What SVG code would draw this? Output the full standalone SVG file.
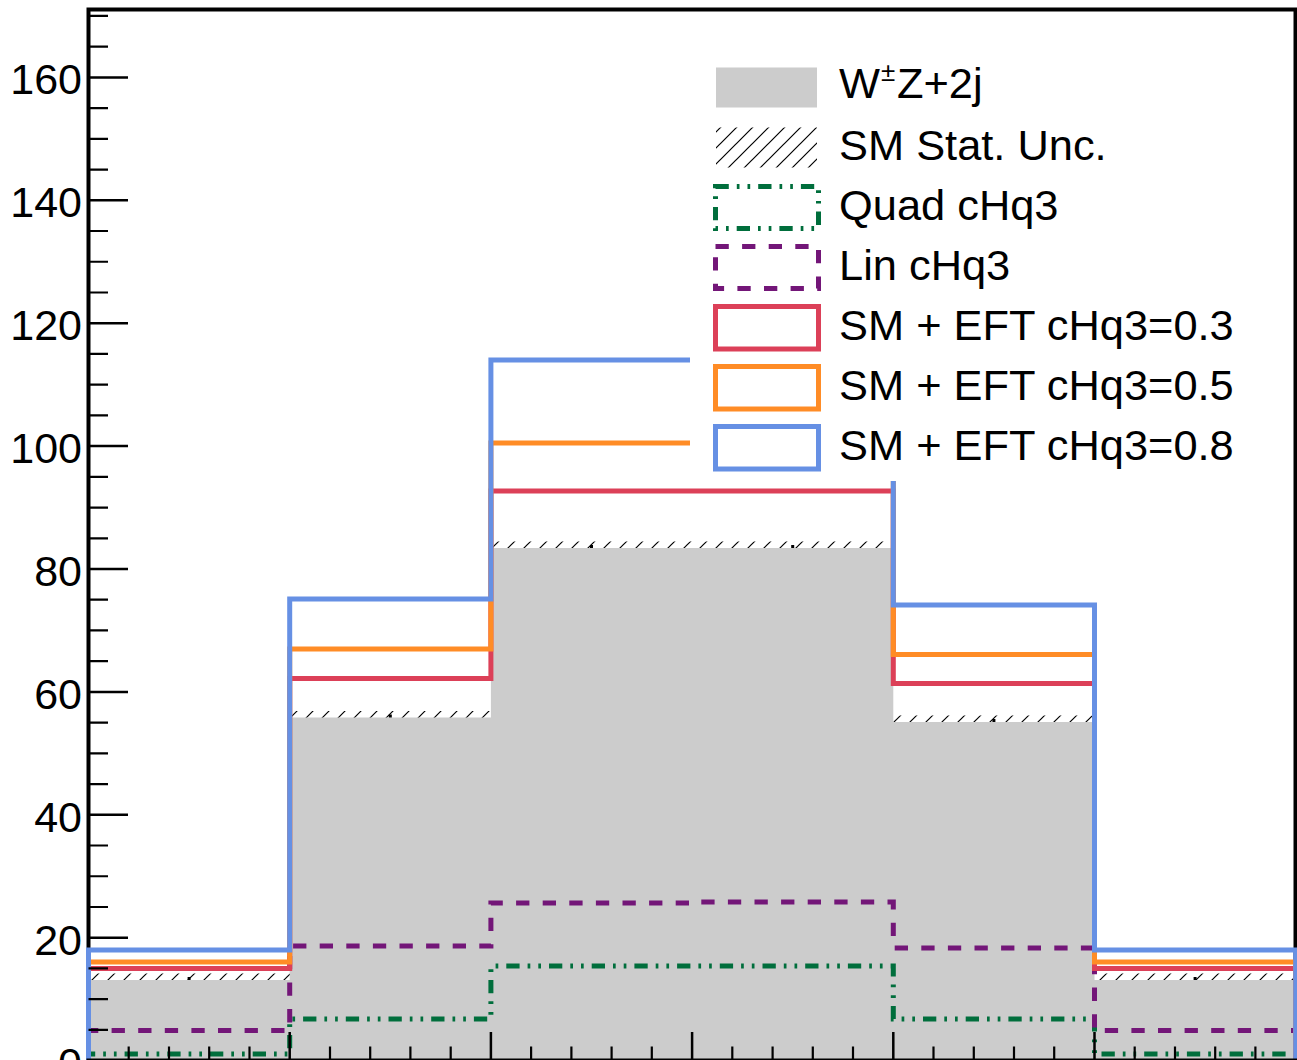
<svg xmlns="http://www.w3.org/2000/svg" width="1297" height="1060" viewBox="0 0 1297 1060">
<defs>
<pattern id="hatch" patternUnits="userSpaceOnUse" width="16" height="16">
<path d="M-4 4L4 -4M0 16L16 0M12 20L20 12" stroke="#000" stroke-width="1.2" fill="none"/>
</pattern>
</defs>
<style>
text{font-family:"Liberation Sans",Arial,sans-serif;font-size:43px;fill:#000}
#legend text{font-size:43.4px}
.ax text{text-anchor:end}
.h{fill:none;stroke-width:5;stroke-linejoin:miter}
.red{stroke:#dc4058}
.orange{stroke:#ff8c26}
.blue{stroke:#6690e4}
.purple{stroke:#731678;stroke-dasharray:13.3 13.3}
.green{stroke:#006e3c;stroke-dasharray:13.3 8 2.7 8 2.7 8}
.tick{stroke:#000;fill:none}
</style>
<rect width="1297" height="1060" fill="#fff"/>
<g id="frame">
<rect x="88.5" y="9.5" width="1207" height="1051" fill="none" stroke="#000" stroke-width="4"/>
</g>
<g id="connectors">
<path id="sm" d="M88.5 1060.6V980H289.7V717.5H490.9V548H893.3V722H1094.5V980H1295.7V1060.6Z" fill="#cccccc"/>
<g id="stat" fill="url(#hatch)">
<rect x="88.5" y="973.5" width="201.2" height="6.5"/>
<rect x="289.7" y="711" width="201.2" height="6.5"/>
<rect x="490.9" y="541.5" width="402.4" height="6.5"/>
<rect x="893.3" y="715.5" width="201.2" height="6.5"/>
<rect x="1094.5" y="973.5" width="201.2" height="6.5"/>
<g fill="#000">
<rect x="187.6" y="977" width="3" height="3"/>
<rect x="388.8" y="714.5" width="3" height="3"/>
<rect x="590" y="545" width="3" height="3"/>
<rect x="791.2" y="545" width="3" height="3"/>
<rect x="992.4" y="719" width="3" height="3"/>
<rect x="1193.6" y="977" width="3" height="3"/>
</g>
</g>
<path class="h green" d="M88.5 1060.6V1054H289.7V1019H490.9V966H893.3V1019H1094.5V1054H1295.7V1060.6"/>
<path class="h purple" d="M88.5 1060.6V1030.5H289.7V946H490.9V903H692.1V902H893.3V948H1094.5V1030.5H1295.7V1060.6"/>
<path class="h red" d="M88.5 1060.6V968.5H289.7V678.5H490.9V491H893.3V683.5H1094.5V968.5H1295.7V1060.6"/>
<path class="h orange" d="M88.5 1060.6V962H289.7V649H490.9V443H893.3V654.5H1094.5V962H1295.7V1060.6"/>
<path class="h blue" d="M88.5 1060.6V950H289.7V599H490.9V360H893.3V605H1094.5V950H1295.7V1060.6"/>
</g>
<g id="legend">
<rect x="690" y="14" width="600" height="467" fill="#fff"/>
<g id="leg-sm"><rect x="716" y="67.5" width="101" height="40" fill="#cccccc"/>
<text x="839" y="98">W<tspan x="881" y="81" style="font-size:26px">±</tspan><tspan x="897" y="98">Z+2j</tspan></text></g>
<g id="leg-stat"><rect x="716" y="127.5" width="101" height="40" fill="url(#hatch)"/>
<text x="839" y="160">SM Stat. Unc.</text></g>
<g id="leg-quad"><rect class="h green" x="715.5" y="186.5" width="103" height="42"/>
<text x="839" y="220">Quad cHq3</text></g>
<g id="leg-lin"><rect class="h purple" x="715.5" y="246.5" width="103" height="42"/>
<text x="839" y="280">Lin cHq3</text></g>
<g id="leg-03"><rect class="h red" x="715.5" y="306.5" width="103" height="42.5"/>
<text x="839" y="340">SM + EFT cHq3=0.3</text></g>
<g id="leg-05"><rect class="h orange" x="715.5" y="366.5" width="103" height="42.5"/>
<text x="839" y="400">SM + EFT cHq3=0.5</text></g>
<g id="leg-08"><rect class="h blue" x="715.5" y="426.5" width="103" height="42.5"/>
<text x="839" y="460">SM + EFT cHq3=0.8</text></g>
</g>
<g id="axes" class="ax">
<path class="tick" stroke-width="2.5" d="M88.5 1060.6H128M88.5 937.7H128M88.5 814.8H128M88.5 691.9H128M88.5 569H128M88.5 446.1H128M88.5 323.2H128M88.5 200.3H128M88.5 77.4H128"/>
<path class="tick" stroke-width="2.2" d="M88.5 1029.9H108M88.5 999.15H108M88.5 968.4H108M88.5 907H108M88.5 876.25H108M88.5 845.5H108M88.5 784.1H108M88.5 753.35H108M88.5 722.6H108M88.5 661.2H108M88.5 630.45H108M88.5 599.7H108M88.5 538.3H108M88.5 507.55H108M88.5 476.8H108M88.5 415.4H108M88.5 384.65H108M88.5 353.9H108M88.5 292.5H108M88.5 261.75H108M88.5 231H108M88.5 169.6H108M88.5 138.85H108M88.5 108.1H108M88.5 46.7H108M88.5 15.95H108"/>
<path class="tick" stroke-width="2.5" d="M289.7 1060.6V1032M490.9 1060.6V1032M692.1 1060.6V1032M893.3 1060.6V1032M1094.5 1060.6V1032"/>
<path class="tick" stroke-width="2.2" d="M128.7 1060.6V1046.5M169 1060.6V1046.5M209.2 1060.6V1046.5M249.5 1060.6V1046.5M330 1060.6V1046.5M370.2 1060.6V1046.5M410.4 1060.6V1046.5M450.7 1060.6V1046.5M531.1 1060.6V1046.5M571.4 1060.6V1046.5M611.6 1060.6V1046.5M651.8 1060.6V1046.5M732.3 1060.6V1046.5M772.6 1060.6V1046.5M812.8 1060.6V1046.5M853 1060.6V1046.5M933.5 1060.6V1046.5M973.8 1060.6V1046.5M1014 1060.6V1046.5M1054.2 1060.6V1046.5M1134.7 1060.6V1046.5M1175 1060.6V1046.5M1215.2 1060.6V1046.5M1255.4 1060.6V1046.5"/>
<path d="M86.5 1060.6H1297" stroke="#000" stroke-width="4"/>
<text x="82" y="94.4">160</text>
<text x="82" y="217.3">140</text>
<text x="82" y="340.2">120</text>
<text x="82" y="463.1">100</text>
<text x="82" y="586">80</text>
<text x="82" y="708.9">60</text>
<text x="82" y="831.8">40</text>
<text x="82" y="954.7">20</text>
<text x="82" y="1077.6">0</text>
</g>
</svg>
